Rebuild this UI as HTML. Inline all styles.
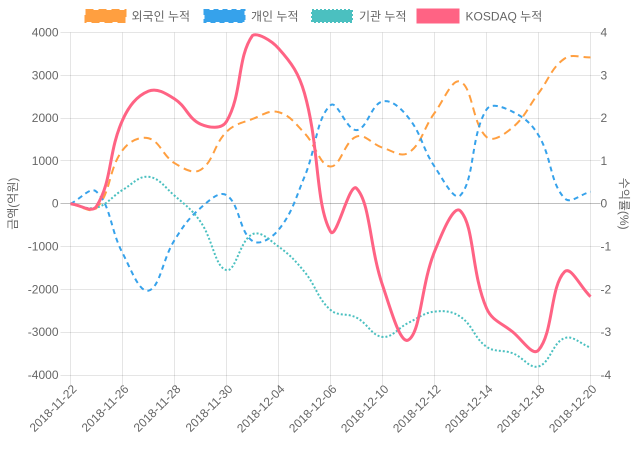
<!DOCTYPE html>
<html><head><meta charset="utf-8">
<style>
html,body{margin:0;padding:0;background:#fff;}
svg{display:block;}
text{font-family:"Liberation Sans","Noto Sans CJK KR",sans-serif;font-size:12px;fill:#666;}
</style></head>
<body>
<svg id="c" width="640" height="450" viewBox="0 0 640 450" xmlns="http://www.w3.org/2000/svg">
<g id="grid"></g>
<g id="lines"></g>
<!-- legend -->
<rect x="85.5" y="10" width="40" height="12" fill="rgb(255,159,64)" stroke="rgb(255,159,64)" stroke-width="2" stroke-dasharray="8 5"/>
<text x="131.5" y="20.5">외국인 누적</text>
<rect x="204.5" y="10" width="40" height="12" fill="rgb(54,162,235)" stroke="rgb(54,162,235)" stroke-width="2" stroke-dasharray="5 4"/>
<text x="251" y="20.5">개인 누적</text>
<rect x="312" y="10" width="40" height="12" fill="rgb(75,192,192)" stroke="rgb(75,192,192)" stroke-width="2" stroke-dasharray="2 2"/>
<text x="359" y="20.5">기관 누적</text>
<rect x="418" y="10" width="40" height="12" fill="rgb(255,99,132)" stroke="rgb(255,99,132)" stroke-width="3"/>
<text x="465.5" y="20.5">KOSDAQ 누적</text>
<!-- left ticks -->
<g text-anchor="end">
<text x="58.5" y="36.5">4000</text>
<text x="58.5" y="79.3">3000</text>
<text x="58.5" y="122.1">2000</text>
<text x="58.5" y="164.9">1000</text>
<text x="58.5" y="207.7">0</text>
<text x="58.5" y="250.5">-1000</text>
<text x="58.5" y="293.3">-2000</text>
<text x="58.5" y="336.1">-3000</text>
<text x="58.5" y="378.9">-4000</text>
</g>
<g text-anchor="start">
<text x="600.5" y="36.5">4</text>
<text x="600.5" y="79.3">3</text>
<text x="600.5" y="122.1">2</text>
<text x="600.5" y="164.9">1</text>
<text x="600.5" y="207.7">0</text>
<text x="600.5" y="250.5">-1</text>
<text x="600.5" y="293.3">-2</text>
<text x="600.5" y="336.1">-3</text>
<text x="600.5" y="378.9">-4</text>
</g>
<text transform="translate(17,203.7) rotate(-90)" text-anchor="middle">금액(억원)</text>
<text transform="translate(620,203.7) rotate(90)" text-anchor="middle">수익률(%)</text>
<!-- x labels -->
<g text-anchor="end" dominant-baseline="central">
<text transform="translate(74.5,387) rotate(-45)">2018-11-22</text>
<text transform="translate(126.5,387) rotate(-45)">2018-11-26</text>
<text transform="translate(178.5,387) rotate(-45)">2018-11-28</text>
<text transform="translate(230.5,387) rotate(-45)">2018-11-30</text>
<text transform="translate(282.5,387) rotate(-45)">2018-12-04</text>
<text transform="translate(334.5,387) rotate(-45)">2018-12-06</text>
<text transform="translate(386.5,387) rotate(-45)">2018-12-10</text>
<text transform="translate(438.5,387) rotate(-45)">2018-12-12</text>
<text transform="translate(490.5,387) rotate(-45)">2018-12-14</text>
<text transform="translate(542.5,387) rotate(-45)">2018-12-18</text>
<text transform="translate(594.5,387) rotate(-45)">2018-12-20</text>
</g>
</svg>
<script>
(function(){
var NS="http://www.w3.org/2000/svg";
var L=70.5,R=590.5,T=32.5,B=375,Z=(T+B)/2;
var sc=(B-T)/8000;
function X(i){return L+i*(R-L)/20;}
function Y(v){return Z-v*sc;}
var g=document.getElementById('grid');
function line(x1,y1,x2,y2,col){var l=document.createElementNS(NS,'line');l.setAttribute('x1',x1);l.setAttribute('y1',y1);l.setAttribute('x2',x2);l.setAttribute('y2',y2);l.setAttribute('stroke',col);l.setAttribute('stroke-width',1);g.appendChild(l);}
for(var k=-4;k<=4;k++){var y=Math.round(Y(k*1000)-0.5)+0.5;line(L-10,y,R+10,y,k==0?'rgba(0,0,0,0.25)':'rgba(0,0,0,0.1)');}
for(var i=0;i<=20;i+=2){var x=Math.round(X(i)-0.5)+0.5;line(x,T,x,B+10,'rgba(0,0,0,0.1)');}
var data=[
 {c:'rgb(255,159,64)',w:2,d:'8 5',s:1,v:[0,-100,1250,1530,950,790,1680,1980,2140,1650,870,1570,1310,1190,2120,2850,1560,1780,2580,3390,3420]},
 {c:'rgb(54,162,235)',w:2,d:'5 4',s:1,v:[0,280,-1150,-2030,-850,-100,200,-870,-610,630,2300,1720,2390,2010,870,200,2200,2150,1600,130,280]},
 {c:'rgb(75,192,192)',w:2,d:'2 2',s:1,v:[0,-90,320,630,190,-420,-1550,-710,-1000,-1590,-2480,-2660,-3110,-2780,-2520,-2640,-3340,-3490,-3800,-3140,-3360]},
 {c:'rgb(255,99,132)',w:3,d:null,s:1000,v:[0,-0.06,1.95,2.63,2.45,1.86,1.92,3.93,3.63,2.58,-0.65,0.36,-1.9,-3.18,-1.12,-0.17,-2.44,-2.99,-3.42,-1.59,-2.17]}
];
var lg=document.getElementById('lines');
data.forEach(function(ds){
 var p=ds.v.map(function(v,i){return {x:X(i),y:Y(v*ds.s)};});
 var n=p.length,t=0.4;
 function cl(v,a,b){return Math.max(a,Math.min(b,v));}
 for(var i=0;i<n;i++){
  var pr=p[i>0?i-1:i],cu=p[i],nx=p[i<n-1?i+1:i];
  var d01=Math.hypot(cu.x-pr.x,cu.y-pr.y),d12=Math.hypot(nx.x-cu.x,nx.y-cu.y);
  var s01=d01/(d01+d12),s12=d12/(d01+d12);
  if(isNaN(s01))s01=0;if(isNaN(s12))s12=0;
  var fa=t*s01,fb=t*s12;
  cu.px=cu.x-fa*(nx.x-pr.x);cu.py=cu.y-fa*(nx.y-pr.y);
  cu.nx=cu.x+fb*(nx.x-pr.x);cu.ny=cu.y+fb*(nx.y-pr.y);
  cu.px=cl(cu.px,L,R);cu.nx=cl(cu.nx,L,R);cu.py=cl(cu.py,T,B);cu.ny=cl(cu.ny,T,B);
 }
 var d='M'+p[0].x+','+p[0].y;
 for(var i=1;i<n;i++){d+=' C'+p[i-1].nx+','+p[i-1].ny+' '+p[i].px+','+p[i].py+' '+p[i].x+','+p[i].y;}
 var path=document.createElementNS(NS,'path');
 path.setAttribute('d',d);path.setAttribute('fill','none');path.setAttribute('stroke',ds.c);
 path.setAttribute('stroke-width',ds.w);if(ds.d)path.setAttribute('stroke-dasharray',ds.d);
 path.setAttribute('stroke-linejoin','round');
 lg.appendChild(path);
});
})();
</script>
</body></html>
